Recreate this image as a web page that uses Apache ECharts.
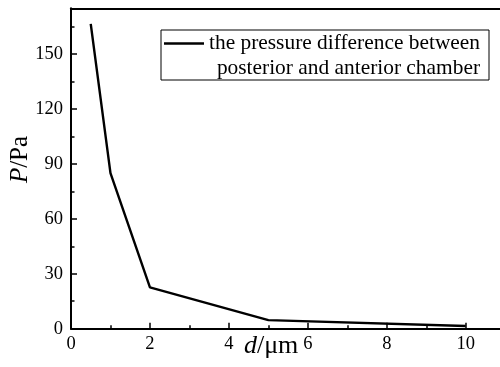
<!DOCTYPE html>
<html><head><meta charset="utf-8">
<script src="https://cdn.jsdelivr.net/npm/echarts@6/dist/echarts.min.js"></script>
<style>html,body{margin:0;padding:0;background:#fff}#c{width:500px;height:367px}</style>
</head><body><div id="c"></div>
<script>
const xValues = [0.5, 1, 2, 5, 10];
const pressure = [166.5, 85, 22.6, 4.7, 1.5];
const seriesName = 'the pressure difference between\nposterior and anterior chamber';
const xTickLabels = ['0', '2', '4', '6', '8', '10'];
const yTickLabels = ['0', '30', '60', '90', '120', '150'];

const FONT = '"Liberation Serif", "Times New Roman", serif';
const chart = echarts.init(document.getElementById('c'), null, {renderer: 'canvas'});
const axisLine = {show: true, lineStyle: {color: '#000', width: 2}};
const legendLines = seriesName.split('\n');
chart.setOption({
  animation: false,
  backgroundColor: '#fff',
  grid: {left: 71, top: 8.3, right: -5.2, bottom: 38.3, containLabel: false, outerBoundsMode: 'none'},
  legend: {
    show: true,
    left: 161, top: 30,
    orient: 'vertical',
    itemWidth: 40, itemHeight: 14, itemGap: 6,
    borderColor: '#000', borderWidth: 1,
    padding: [-24, 9, -1, 3],
    data: [{name: seriesName, icon: 'path://M0,0 L40,0 L40,2.4 L0,2.4 Z'}],
    formatter: function () { return legendLines.map(l => '{r|' + l + '}').join('\n'); },
    textStyle: {
      fontFamily: FONT, fontSize: 21.4, color: '#000', lineHeight: 25,
      padding: [25, 0, 0, 0],
      rich: {r: {align: 'right', fontFamily: FONT, fontSize: 21.4, lineHeight: 25, color: '#000'}}
    }
  },
  xAxis: [
    {
      type: 'value', position: 'bottom', min: 0, max: 11, interval: 2,
      axisLine: axisLine,
      axisTick: {show: true, inside: true, length: 6, lineStyle: {color: '#000', width: 1.5}},
      splitLine: {show: false},
      axisLabel: {
        show: true, margin: 6, fontFamily: FONT, fontSize: 18.5, color: '#000',
        showMaxLabel: false,
        formatter: function (v) { const s = String(v); return xTickLabels.includes(s) ? s : ''; }
      },
      name: '{i|d}/μm', nameLocation: 'middle', nameGap: 4, nameMoveOverlap: false,
      nameTextStyle: {fontFamily: FONT, fontSize: 26, color: '#000',
        padding: [0, 0, 0, -34],
        rich: {i: {fontStyle: 'italic', fontFamily: FONT, fontSize: 26, color: '#000'}}}
    },
    {
      type: 'value', position: 'bottom', min: 0, max: 11, interval: 1,
      axisLine: {show: false},
      axisTick: {show: true, inside: true, length: 3.5, lineStyle: {color: '#000', width: 1.5}},
      axisLabel: {show: false}, splitLine: {show: false}
    },
    {
      type: 'value', position: 'top', min: 0, max: 11,
      axisLine: axisLine, axisTick: {show: false}, axisLabel: {show: false}, splitLine: {show: false}
    }
  ],
  yAxis: [
    {
      type: 'value', position: 'left', min: 0, max: 175, interval: 30,
      axisLine: axisLine,
      axisTick: {show: true, inside: true, length: 6, lineStyle: {color: '#000', width: 1.5}},
      splitLine: {show: false},
      axisLabel: {
        show: true, margin: 8, fontFamily: FONT, fontSize: 18.5, color: '#000',
        showMaxLabel: false,
        formatter: function (v) { const s = String(v); return yTickLabels.includes(s) ? s : ''; }
      },
      name: '{i|P}/Pa', nameLocation: 'middle', nameGap: 38, nameRotate: 90, nameMoveOverlap: false,
      nameTextStyle: {fontFamily: FONT, fontSize: 25, color: '#000',
        padding: [0, 0, 0, 18],
        rich: {i: {fontStyle: 'italic', fontFamily: FONT, fontSize: 25, color: '#000'}}}
    },
    {
      type: 'value', position: 'left', min: 0, max: 175, interval: 15,
      axisLine: {show: false},
      axisTick: {show: true, inside: true, length: 3.5, lineStyle: {color: '#000', width: 1.5}},
      axisLabel: {show: false}, splitLine: {show: false}
    }
  ],
  series: [{
    name: seriesName, type: 'line',
    xAxisIndex: 0, yAxisIndex: 0,
    data: xValues.map((x, i) => [x, pressure[i]]),
    symbol: 'none', lineStyle: {color: '#000', width: 2.4}, itemStyle: {color: '#000'}
  }]
});
</script></body></html>
